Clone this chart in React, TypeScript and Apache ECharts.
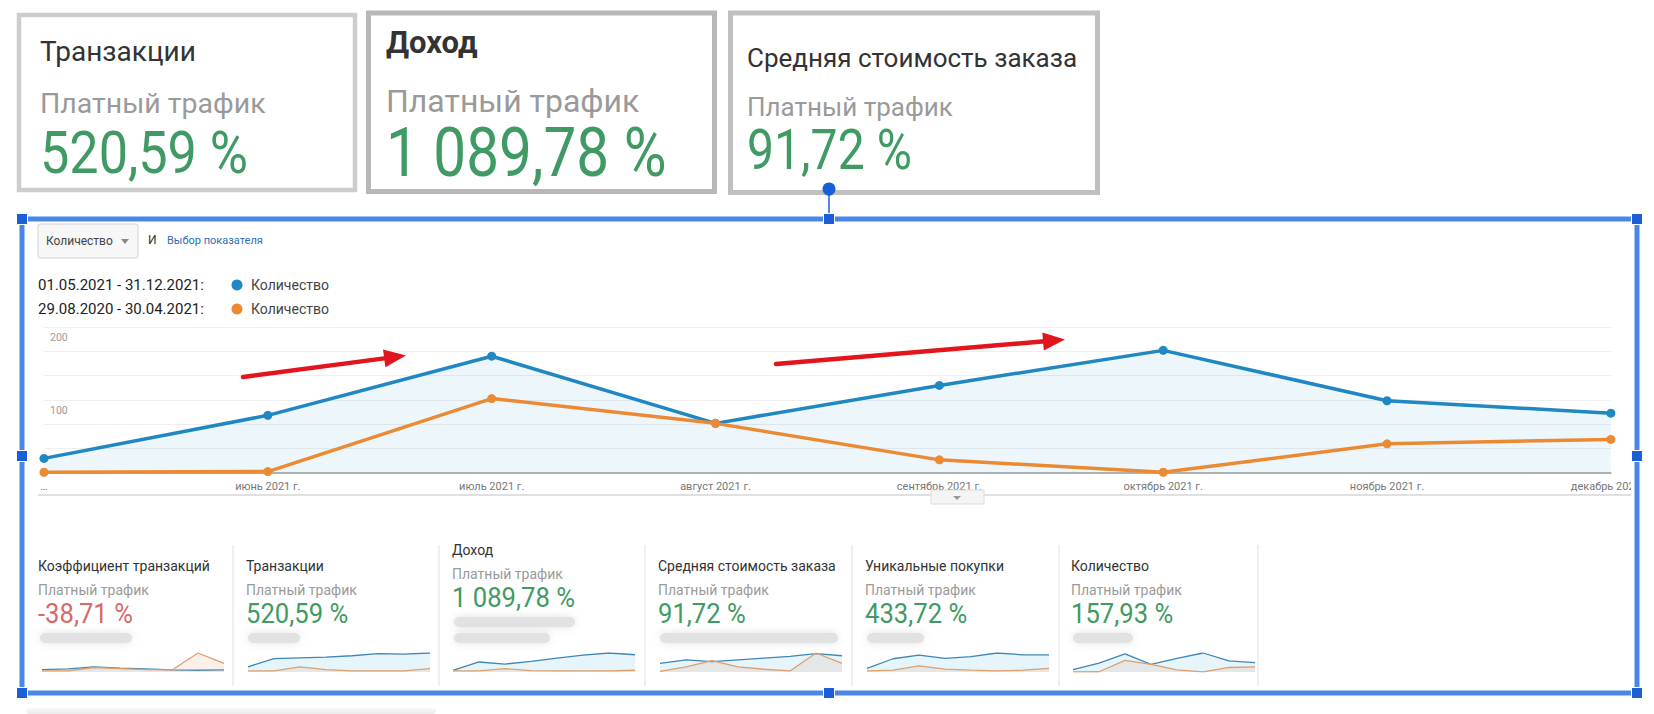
import React, { useEffect, useRef } from 'react';
import * as echarts from 'echarts';

// ---------- data ----------
const monthLabels = ['…', 'июнь 2021 г.', 'июль 2021 г.', 'август 2021 г.', 'сентябрь 2021 г.', 'октябрь 2021 г.', 'ноябрь 2021 г.', 'декабрь 2021 г.'];
const currentQty = [20, 79, 160, 68, 120, 168, 99, 82];
const previousQty = [1, 2, 102, 68, 18, 1, 40, 46];
const yLabelValues = [100, 200];

const currentRange = '01.05.2021 - 31.12.2021:';
const previousRange = '29.08.2020 - 30.04.2021:';
const metricName = 'Количество';
const segmentName = 'Платный трафик';
const pickerLabel = 'Выбор показателя';

const topTitles = ['Транзакции', 'Доход', 'Средняя стоимость заказа'];
const topValues = ['520,59 %', '1 089,78 %', '91,72 %'];

const cardTitles = ['Коэффициент транзакций', 'Транзакции', 'Доход', 'Средняя стоимость заказа', 'Уникальные покупки', 'Количество'];
const cardValues = ['-38,71 %', '520,59 %', '1 089,78 %', '91,72 %', '433,72 %', '157,93 %'];
const cardNegative = [true, false, false, false, false, false];

const sparkCurrent = [
  [7, 9, 15, 11, 9, 6, 5, 6],
  [15, 39, 41, 43, 47, 53, 52, 55],
  [5, 29, 23, 31, 40, 49, 55, 50],
  [25, 35, 30, 35, 40, 45, 53, 47],
  [10, 37, 47, 38, 43, 53, 48, 48],
  currentQty,
];
const sparkPrevious = [
  [3, 3, 13, 10, 7, 6, 55, 25],
  [3, 3, 15, 7, 3, 3, 3, 10],
  [3, 3, 10, 4, 3, 3, 3, 5],
  [2, 15, 33, 15, 8, 3, 55, 25],
  [3, 5, 17, 8, 5, 3, 5, 10],
  previousQty,
];

// ---------- styling / layout ----------
const FONT = 'Roboto, "Noto Sans", Arial, sans-serif';
const BLUE = '#1f87c2';
const ORANGE = '#ec8a34';
const GREEN = '#3f9a64';
const RED = '#d9686a';
const FRAME = '#4a86e8';
const HANDLE = '#1a5fd6';
const ARROW = '#e2141c';

function txt(text: string, x: number, y: number, size: number, fill: string, extra: any = {}) {
  return {
    type: 'text',
    x,
    y,
    scaleX: extra.sx ?? 1,
    z: 50,
    silent: true,
    style: {
      text,
      fill,
      font: `${extra.weight ?? 'normal'} ${size}px ${FONT}`,
      textAlign: extra.align ?? 'left',
      textVerticalAlign: 'middle',
    },
  };
}

function arrow(x1: number, y1: number, x2: number, y2: number) {
  const dx = x2 - x1;
  const dy = y2 - y1;
  const len = Math.sqrt(dx * dx + dy * dy);
  const ux = dx / len;
  const uy = dy / len;
  const nx = -uy;
  const ny = ux;
  const hl = 22;
  const hw = 9;
  const bx = x2 - ux * hl;
  const by = y2 - uy * hl;
  return [
    { type: 'line', z: 80, silent: true, shape: { x1, y1, x2: bx + ux * 2, y2: by + uy * 2 }, style: { stroke: ARROW, lineWidth: 4.5, lineCap: 'round' } },
    { type: 'polygon', z: 80, silent: true, shape: { points: [[x2, y2], [bx + nx * hw, by + ny * hw], [bx - nx * hw, by - ny * hw]] }, style: { fill: ARROW } },
  ];
}

function handle(cx: number, cy: number) {
  return { type: 'rect', z: 95, silent: true, shape: { x: cx - 5.5, y: cy - 5.5, width: 11, height: 11 }, style: { fill: HANDLE, stroke: '#ffffff', lineWidth: 1 } };
}

const sparkLeft = [42, 248, 453, 660, 867, 1073];
const cardTextX = [38, 246, 452, 658, 865, 1071];
const separatorsX = [233, 439, 645, 852, 1059, 1258];
const blurWidths = [[92], [52], [121, 96], [178], [57], [60]];

export default function App() {
  const ref = useRef<HTMLDivElement>(null);

  useEffect(() => {
    if (!ref.current) return;
    const chart = echarts.init(ref.current, null, { renderer: 'svg' });

    const grids: any[] = [{ left: 44, right: 26, top: 327, bottom: 241 }];
    const xAxes: any[] = [
      {
        type: 'category',
        gridIndex: 0,
        data: monthLabels,
        boundaryGap: false,
        axisLine: { lineStyle: { color: '#9c9c9c', width: 1.5 } },
        axisTick: { show: false },
        axisLabel: { color: '#777', fontSize: 11, fontFamily: FONT, margin: 8, interval: 0 },
        splitLine: { show: false },
      },
    ];
    const yAxes: any[] = [
      {
        type: 'value',
        gridIndex: 0,
        min: 0,
        max: 200,
        interval: 200 / 6,
        axisLine: { show: false },
        axisTick: { show: false },
        splitLine: { lineStyle: { color: '#eeeeee', width: 1 } },
        axisLabel: {
          inside: true,
          margin: 6,
          color: '#9a9a9a',
          fontSize: 10.5,
          fontFamily: FONT,
          verticalAlign: 'top',
          lineHeight: 12,
          padding: [4, 0, 0, 0],
          formatter: (v: number) => {
            const r = Math.round(v);
            return Math.abs(v - r) < 0.01 && yLabelValues.includes(r) ? String(r) : '';
          },
        },
      },
    ];
    const series: any[] = [
      {
        type: 'line',
        xAxisIndex: 0,
        yAxisIndex: 0,
        data: currentQty,
        symbol: 'circle',
        symbolSize: 9,
        showAllSymbol: true,
        lineStyle: { color: BLUE, width: 3.5 },
        itemStyle: { color: BLUE },
        areaStyle: { color: 'rgba(5,141,199,0.1)' },
        z: 3,
      },
      {
        type: 'line',
        xAxisIndex: 0,
        yAxisIndex: 0,
        data: previousQty,
        symbol: 'circle',
        symbolSize: 9,
        showAllSymbol: true,
        lineStyle: { color: ORANGE, width: 3.5 },
        itemStyle: { color: ORANGE },
        z: 4,
      },
    ];

    sparkCurrent.forEach((cur, i) => {
      const g = i + 1;
      grids.push({ left: sparkLeft[i], top: 653, width: 182, height: 19 });
      xAxes.push({ type: 'category', gridIndex: g, data: monthLabels, boundaryGap: false, show: false });
      yAxes.push({ type: 'value', gridIndex: g, min: 0, max: 'dataMax', show: false, splitLine: { show: false } });
      series.push({
        type: 'line',
        xAxisIndex: g,
        yAxisIndex: g,
        data: cur,
        symbol: 'none',
        silent: true,
        lineStyle: { color: '#3f86b4', width: 1.3 },
        areaStyle: { color: '#dcf0fb' },
        z: 2,
      });
      series.push({
        type: 'line',
        xAxisIndex: g,
        yAxisIndex: g,
        data: sparkPrevious[i],
        symbol: 'none',
        silent: true,
        lineStyle: { color: '#dda06c', width: 1.3 },
        areaStyle: { color: 'rgba(226,160,110,0.22)' },
        z: 3,
      });
    });

    const graphics: any[] = [];

    // top KPI boxes
    graphics.push({ type: 'rect', z: 40, silent: true, shape: { x: 19, y: 15, width: 336, height: 175 }, style: { fill: '#fff', stroke: '#cdcdcd', lineWidth: 4.5 } });
    graphics.push({ type: 'rect', z: 40, silent: true, shape: { x: 368.5, y: 13, width: 346, height: 178.5 }, style: { fill: '#fff', stroke: '#b8b8b8', lineWidth: 5 } });
    graphics.push({ type: 'rect', z: 40, silent: true, shape: { x: 730.5, y: 13, width: 367, height: 179.5 }, style: { fill: '#fff', stroke: '#c0c0c0', lineWidth: 5 } });

    graphics.push(txt(topTitles[0], 40, 51, 28, '#333'));
    graphics.push(txt(segmentName, 40, 103, 28.5, '#9a9a9a'));
    graphics.push(txt(topValues[0], 40, 153, 60, GREEN, { sx: 0.87 }));

    graphics.push(txt(topTitles[1], 386, 42, 31, '#333', { weight: 'bold' }));
    graphics.push(txt(segmentName, 386, 101, 32, '#9a9a9a'));
    graphics.push(txt(topValues[1], 386, 152, 68, GREEN, { sx: 0.86 }));

    graphics.push(txt(topTitles[2], 747, 58, 26, '#333'));
    graphics.push(txt(segmentName, 747, 107, 26, '#9a9a9a'));
    graphics.push(txt(topValues[2], 747, 150, 56, GREEN, { sx: 0.86 }));

    // controls
    graphics.push({ type: 'rect', z: 40, silent: true, shape: { x: 38, y: 224, width: 100, height: 34, r: 2 }, style: { fill: '#f7f7f7', stroke: '#d2d2d2', lineWidth: 1 } });
    graphics.push(txt(metricName, 46, 241, 12, '#444'));
    graphics.push({ type: 'polygon', z: 50, silent: true, shape: { points: [[121, 239], [129, 239], [125, 244]] }, style: { fill: '#888' } });
    graphics.push(txt('И', 148, 240, 12, '#333'));
    graphics.push(txt(pickerLabel, 167, 240, 11, '#2d6db5'));

    // legend
    graphics.push(txt(currentRange, 38, 285, 15, '#222'));
    graphics.push(txt(previousRange, 38, 309, 15, '#222'));
    graphics.push({ type: 'circle', z: 50, silent: true, shape: { cx: 237, cy: 285, r: 5.5 }, style: { fill: BLUE } });
    graphics.push({ type: 'circle', z: 50, silent: true, shape: { cx: 237, cy: 309, r: 5.5 }, style: { fill: ORANGE } });
    graphics.push(txt(metricName, 251, 285, 14, '#444'));
    graphics.push(txt(metricName, 251, 309, 14, '#444'));

    // separator under chart and collapse tab
    graphics.push({ type: 'line', z: 30, silent: true, shape: { x1: 38, y1: 495, x2: 1632, y2: 495 }, style: { stroke: '#e0e0e0', lineWidth: 2 } });
    graphics.push({ type: 'rect', z: 31, silent: true, shape: { x: 931, y: 490, width: 53, height: 14 }, style: { fill: '#f4f4f4', stroke: '#dcdcdc', lineWidth: 1 } });
    graphics.push({ type: 'polygon', z: 32, silent: true, shape: { points: [[953, 496], [961, 496], [957, 500]] }, style: { fill: '#999' } });

    // arrows
    graphics.push(...arrow(243, 377, 406, 355.5));
    graphics.push(...arrow(776, 364, 1065, 339.6));

    // cards
    cardTitles.forEach((t, i) => {
      const up = i === 2 ? -16 : 0;
      const x = cardTextX[i];
      graphics.push(txt(t, x, 566 + up, 14, '#333'));
      graphics.push(txt(segmentName, x, 590 + up, 14, '#9a9a9a'));
      graphics.push(txt(cardValues[i], x, 614 + up, 27, cardNegative[i] ? RED : GREEN, { sx: 0.95 }));
      blurWidths[i].forEach((w, k) => {
        graphics.push({
          type: 'rect',
          z: 45,
          silent: true,
          shape: { x: x + 2, y: 633 + up + k * 16, width: w, height: 10, r: 5 },
          style: { fill: '#e0e0e0', opacity: 0.9, shadowBlur: 8, shadowColor: 'rgba(0,0,0,0.12)' },
        });
      });
    });
    separatorsX.forEach((sx) => {
      graphics.push({ type: 'line', z: 30, silent: true, shape: { x1: sx, y1: 545, x2: sx, y2: 686 }, style: { stroke: '#e0e0e0', lineWidth: 1 } });
    });

    // clip right overflow of chart labels
    graphics.push({ type: 'rect', z: 88, silent: true, shape: { x: 1631, y: 225, width: 23, height: 465 }, style: { fill: '#ffffff' } });

    // selection frame
    graphics.push({ type: 'rect', z: 90, silent: true, shape: { x: 22, y: 219, width: 1615, height: 474 }, style: { fill: 'none', stroke: FRAME, lineWidth: 5 } });
    graphics.push({ type: 'line', z: 91, silent: true, shape: { x1: 829, y1: 189, x2: 829, y2: 219 }, style: { stroke: HANDLE, lineWidth: 1.5 } });
    graphics.push({ type: 'circle', z: 95, silent: true, shape: { cx: 829, cy: 189, r: 6.5 }, style: { fill: HANDLE } });
    [[22, 219], [829, 219], [1637, 219], [22, 456], [1637, 456], [22, 693], [829, 693], [1637, 693]].forEach(([cx, cy]) => graphics.push(handle(cx, cy)));

    // faint shadow strip below frame
    graphics.push({
      type: 'rect',
      z: 20,
      silent: true,
      shape: { x: 26, y: 708, width: 410, height: 6, r: 3 },
      style: { fill: new echarts.graphic.LinearGradient(0, 0, 0, 1, [{ offset: 0, color: '#f8f8f8' }, { offset: 1, color: '#ececec' }]) },
    });

    chart.setOption({
      animation: false,
      backgroundColor: '#ffffff',
      grid: grids,
      xAxis: xAxes,
      yAxis: yAxes,
      series,
      graphic: graphics,
    });

    return () => chart.dispose();
  }, []);

  return <div ref={ref} style={{ position: 'fixed', left: 0, top: 0, width: 1654, height: 714, background: '#fff' }} />;
}
